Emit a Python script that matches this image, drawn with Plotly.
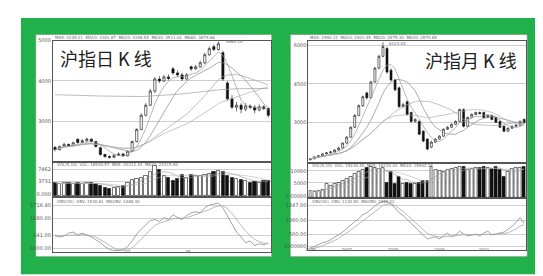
import plotly.graph_objects as go
import pandas as pd

W, H = 543, 276

# ---------------- Left: daily K line (沪指日K线) ----------------
d_open = [2360, 2300, 2380, 2430, 2400, 2560, 2480, 2520, 2560, 2500,
          2350, 2180, 2130, 2110, 2160, 2190, 2150, 2260, 2500, 2800,
          3150, 3400, 3750, 4050, 4000, 4100, 4300, 4200, 4150, 4050,
          4350, 4300, 4350, 4450, 4650, 4850, 4780, 4700, 3950, 3560,
          3350, 3400, 3300, 3380, 3350, 3280, 3360, 3320]
d_close = [2300, 2380, 2430, 2400, 2470, 2480, 2520, 2560, 2500, 2380,
           2180, 2130, 2110, 2160, 2190, 2150, 2260, 2500, 2800, 3150,
           3400, 3750, 4050, 4000, 4100, 4060, 4200, 4150, 4050, 4150,
           4300, 4350, 4450, 4650, 4800, 4780, 4920, 4050, 3560, 3350,
           3400, 3300, 3380, 3350, 3280, 3360, 3320, 3150]
d_high = [2380, 2400, 2470, 2450, 2500, 2580, 2560, 2600, 2580, 2520,
          2370, 2200, 2160, 2190, 2230, 2220, 2280, 2530, 2830, 3200,
          3450, 3800, 4100, 4120, 4150, 4160, 4350, 4260, 4200, 4200,
          4380, 4400, 4500, 4700, 4850, 4900, 4980, 4750, 4000, 3650,
          3480, 3450, 3450, 3420, 3400, 3420, 3400, 3340]
d_low = [2260, 2280, 2360, 2370, 2390, 2450, 2460, 2500, 2470, 2350,
         2150, 2100, 2080, 2090, 2140, 2120, 2130, 2240, 2480, 2780,
         3120, 3380, 3700, 3950, 3980, 4020, 4150, 4100, 4000, 4030,
         4250, 4280, 4330, 4420, 4620, 4740, 4750, 4000, 3500, 3300,
         3250, 3200, 3250, 3300, 3200, 3250, 3280, 3100]
d_vol = [40, 35, 38, 40, 36, 40, 35, 38, 40, 36,
         30, 25, 22, 25, 28, 30, 40, 48, 52, 55,
         58, 70, 88, 78, 60, 55, 45, 50, 62, 55,
         62, 58, 60, 62, 65, 70, 75, 72, 60, 55,
         50, 48, 45, 40, 42, 40, 45, 44]
d_ma_long = [3660, 3655, 3650, 3648, 3645, 3642, 3640, 3638, 3635, 3632,
             3628, 3625, 3622, 3618, 3615, 3612, 3610, 3610, 3612, 3615,
             3620, 3625, 3632, 3640, 3648, 3655, 3662, 3670, 3680, 3690,
             3700, 3712, 3725, 3738, 3752, 3765, 3780, 3790, 3800, 3805,
             3808, 3810, 3812, 3813, 3814, 3815, 3815, 3815]
d_ind1 = [32.1, 28.6, 30.4, 35.7, 37.5, 32.1, 35.7, 32.1, 28.6, 23.2,
          17.9, 10.7, 5.4, 3.6, 3.6, 5.4, 10.7, 21.4, 33.9, 42.9,
          51.8, 58.9, 60.7, 57.1, 64.3, 60.7, 69.6, 64.3, 60.7, 67.9,
          73.2, 75.0, 73.2, 82.1, 87.5, 89.3, 91.1, 82.1, 67.9, 51.8,
          37.5, 28.6, 17.9, 21.4, 12.5, 16.1, 14.3, 17.9]
d_ind2 = [30, 30.5, 31, 32, 33, 33.5, 33, 32.5, 31, 28,
          24, 19, 13, 8, 5, 4, 5, 9, 16, 25,
          34, 43, 50, 54, 57, 59, 62, 63, 63, 64,
          67, 70, 72, 75, 79, 83, 86, 86, 81, 72,
          61, 50, 39, 31, 24, 20, 17, 16]
d_price_ticks = [3000, 4000, 5000]
d_price_text = ["3000", "4000", "5000"]
d_vol_ticks = [6, 43, 77]
d_vol_text = ["0.000", "3731", "7462"]
d_ind_ticks = [7.1, 32.1, 62.5, 87.5]
d_ind_text = ["-1000.00", "641.00", "1180.00", "1716.40"]
d_x_ticks = [16, 29.3]
d_x_text = ["03", "05"]

# ---------------- Right: monthly K line (沪指月K线) ----------------
m_open = [1540, 1577, 1654, 1692, 1769, 1808, 1846, 1923, 2000, 2192,
          2423, 2808, 3269, 3654, 4150, 3960, 4577, 5115, 5577, 5884,
          5038, 4654, 4346, 3615, 3808, 3384, 3038, 3038, 2654, 2346,
          2038, 2230, 2346, 2461, 2731, 2808, 2923, 3038, 3500, 2846,
          3192, 3308, 3384, 3384, 3192, 3269, 3192, 3038, 2846, 2654,
          2770, 2846, 2885, 3115]
m_close = [1577, 1654, 1692, 1769, 1808, 1846, 1923, 2000, 2192, 2423,
           2808, 3269, 3654, 4000, 3960, 4577, 5115, 5577, 5961, 4961,
           4654, 4269, 3615, 3692, 3308, 3038, 3115, 2538, 2269, 1961,
           2230, 2346, 2461, 2731, 2808, 2923, 3038, 3500, 2846, 3192,
           3308, 3384, 3346, 3192, 3269, 3115, 3000, 2808, 2654, 2770,
           2846, 2885, 3038, 2990]
m_high = [1600, 1680, 1720, 1790, 1840, 1880, 1950, 2040, 2220, 2460,
          2850, 3320, 3700, 4050, 4200, 4620, 5160, 5640, 6124, 5950,
          5100, 4700, 4400, 3760, 3850, 3420, 3160, 3080, 2700, 2380,
          2280, 2380, 2500, 2770, 2850, 2960, 3080, 3540, 3540, 3230,
          3350, 3420, 3420, 3420, 3300, 3300, 3220, 3070, 2880, 2800,
          2880, 2920, 3080, 3150]
m_low = [1520, 1560, 1630, 1670, 1750, 1790, 1820, 1900, 1980, 2170,
         2400, 2780, 3240, 3600, 3900, 3940, 4550, 5080, 5550, 4900,
         4600, 4220, 3560, 3580, 3260, 2990, 2990, 2500, 2220, 1900,
         1990, 2200, 2320, 2440, 2700, 2780, 2900, 3010, 2800, 2820,
         3170, 3280, 3300, 3160, 3170, 3080, 2970, 2780, 2620, 2630,
         2750, 2830, 2870, 2960]
m_vol = [22, 18, 20, 25, 42, 35, 40, 45, 50, 55,
         60, 68, 75, 80, 86, 88, 85, 82, 85, 45,
         75, 42, 60, 40, 45, 42, 40, 45, 50, 48,
         88, 80, 78, 75, 80, 82, 85, 88, 88, 80,
         82, 85, 86, 88, 85, 84, 88, 80, 60, 75,
         82, 85, 86, 88]
m_ind1 = [5.6, 7.4, 11.1, 14.8, 16.7, 20.4, 25.9, 29.6, 35.2, 42.6,
          50.0, 55.6, 61.1, 68.5, 72.2, 79.6, 85.2, 90.7, 94.4, 94.4,
          88.9, 81.5, 72.2, 66.7, 59.3, 51.9, 44.4, 35.2, 27.8, 22.2,
          24.1, 25.9, 22.2, 27.8, 33.3, 25.9, 29.6, 37.0, 31.5, 27.8,
          29.6, 31.5, 27.8, 33.3, 37.0, 29.6, 31.5, 33.3, 35.2, 40.7,
          46.3, 53.7, 63.0, 51.9]
m_ind2 = [3, 4, 6, 9, 12, 15, 19, 23, 28, 33,
          39, 45, 51, 57, 63, 69, 75, 81, 86, 89,
          89, 86, 81, 75, 68, 61, 54, 46, 39, 33,
          29, 27, 26, 26, 27, 28, 28, 30, 31, 31,
          30, 30, 30, 30, 31, 31, 31, 32, 32, 34,
          37, 41, 47, 49]
m_price_ticks = [3000, 4500, 6000]
m_price_text = ["3000", "4500", "6000"]
m_vol_ticks = [6, 43, 77]
m_vol_text = ["0.00000", "5000", "10000"]
m_ind_ticks = [7.4, 31.5, 57.4, 87.0]
m_ind_text = ["1000000", "500.00", "1000.00", "1247.00"]
m_x_ticks = [0, 9, 20.5, 32, 43]
m_x_text = ["2006", "2007", "2008", "2009", "2010"]

GREEN = "#22b04a"
INK = "#111111"


def X(px):
    return px / W


def Y(py):
    return 1 - py / H


def ma(vals, n):
    return pd.Series(vals).rolling(n, min_periods=1).mean().tolist()


fig = go.Figure()


def add_panel(sfx, opens, highs, lows, closes, vols, ind1, ind2, extra_ma=None):
    ax = ["", "2", "3"] if sfx == 0 else ["4", "5", "6"]
    idx = list(range(len(closes)))
    fig.add_trace(go.Candlestick(
        x=idx, open=opens, high=highs, low=lows, close=closes,
        xaxis="x" + ax[0], yaxis="y" + ax[0],
        increasing=dict(line=dict(color=INK, width=0.6), fillcolor="white"),
        decreasing=dict(line=dict(color=INK, width=0.6), fillcolor=INK),
        whiskerwidth=0, showlegend=False, hoverinfo="skip"))
    for n, col in [(5, "#9a9a9a"), (10, "#8a8a8a"), (20, "#a5a5a5"), (30, "#b0b0b0")]:
        fig.add_trace(go.Scatter(x=idx, y=ma(closes, n), mode="lines",
                                 line=dict(color=col, width=0.7),
                                 xaxis="x" + ax[0], yaxis="y" + ax[0],
                                 showlegend=False, hoverinfo="skip"))
    if extra_ma is not None:
        fig.add_trace(go.Scatter(x=idx, y=extra_ma, mode="lines",
                                 line=dict(color="#a0a0a0", width=0.7),
                                 xaxis="x" + ax[0], yaxis="y" + ax[0],
                                 showlegend=False, hoverinfo="skip"))
    cols = [INK if c < o else "white" for o, c in zip(opens, closes)]
    fig.add_trace(go.Bar(x=idx, y=vols, width=0.72,
                         marker=dict(color=cols, line=dict(color=INK, width=0.6)),
                         xaxis="x" + ax[1], yaxis="y" + ax[1],
                         showlegend=False, hoverinfo="skip"))
    for n, col in [(5, "#9a9a9a"), (10, "#b5b5b5")]:
        fig.add_trace(go.Scatter(x=idx, y=ma(vols, n), mode="lines",
                                 line=dict(color=col, width=0.6),
                                 xaxis="x" + ax[1], yaxis="y" + ax[1],
                                 showlegend=False, hoverinfo="skip"))
    fig.add_trace(go.Scatter(x=idx, y=ind1, mode="lines",
                             line=dict(color="#8c8c8c", width=0.8),
                             xaxis="x" + ax[2], yaxis="y" + ax[2],
                             showlegend=False, hoverinfo="skip"))
    fig.add_trace(go.Scatter(x=idx, y=ind2, mode="lines",
                             line=dict(color="#a8a8a8", width=0.8),
                             xaxis="x" + ax[2], yaxis="y" + ax[2],
                             showlegend=False, hoverinfo="skip"))


add_panel(0, d_open, d_high, d_low, d_close, d_vol, d_ind1, d_ind2, d_ma_long)
add_panel(1, m_open, m_high, m_low, m_close, m_vol, m_ind1, m_ind2)

tf = dict(size=5, color="#555555", family="DejaVu Sans")
xtf = dict(size=4, color="#666666", family="DejaVu Sans")
frame = dict(showline=True, mirror=True, linecolor="#555555", linewidth=0.8,
             zeroline=False, fixedrange=True)


def xax(dom, n, anchor, show=False, tv=None, tt=None):
    d = dict(domain=dom, range=[-0.5, n - 0.5], anchor=anchor, showgrid=False,
             showticklabels=show, ticks="", tickfont=xtf, **frame)
    d["rangeslider"] = dict(visible=False)
    if tv is not None:
        d["tickvals"] = tv
        d["ticktext"] = tt
        d["ticklabelstandoff"] = -5
    return d


def yax(dom, rng, anchor, tv, tt):
    return dict(domain=dom, range=rng, anchor=anchor, tickvals=tv, ticktext=tt,
                tickfont=tf, ticks="", showgrid=True, gridcolor="#cfcfcf",
                gridwidth=0.6, **frame)


LX = [X(42), X(261)]
RX = [X(299), X(518)]
nd, nm = len(d_close), len(m_close)

fig.update_layout(
    width=W, height=H, margin=dict(l=0, r=0, t=0, b=0),
    paper_bgcolor="white", plot_bgcolor="white", bargap=0,
    xaxis=xax(LX, nd, "y"),
    yaxis=yax([Y(153), Y(30)], [2000, 5000], "x", d_price_ticks, d_price_text),
    xaxis2=xax(LX, nd, "y2"),
    yaxis2=yax([Y(188), Y(153)], [0, 100], "x2", d_vol_ticks, d_vol_text),
    xaxis3=xax(LX, nd, "y3", True, d_x_ticks, d_x_text),
    yaxis3=yax([Y(245), Y(190)], [0, 100], "x3", d_ind_ticks, d_ind_text),
    xaxis4=xax(RX, nm, "y4"),
    yaxis4=yax([Y(154), Y(30)], [1423, 6192], "x4", m_price_ticks, m_price_text),
    xaxis5=xax(RX, nm, "y5"),
    yaxis5=yax([Y(190), Y(154)], [0, 100], "x5", m_vol_ticks, m_vol_text),
    xaxis6=xax(RX, nm, "y6", True, m_x_ticks, m_x_text),
    yaxis6=yax([Y(243), Y(190)], [0, 100], "x6", m_ind_ticks, m_ind_text),
)

shapes = [
    dict(type="rect", xref="paper", yref="paper", x0=X(10), x1=X(534), y0=Y(267), y1=Y(7),
         fillcolor=GREEN, line=dict(width=0), layer="below"),
    dict(type="rect", xref="paper", yref="paper", x0=X(25), x1=X(262), y0=Y(249), y1=Y(24),
         fillcolor="white", line=dict(color="#9a9a9a", width=0.6), layer="below"),
    dict(type="rect", xref="paper", yref="paper", x0=X(281), x1=X(519), y0=Y(249), y1=Y(24),
         fillcolor="white", line=dict(color="#9a9a9a", width=0.6), layer="below"),
]
fig.update_layout(shapes=shapes)

small = dict(size=4, color="#666666", family="DejaVu Sans")
title_font = dict(size=18, color="#222222", family="Noto Sans CJK SC")
ann = [
    dict(text="沪指日 K 线", x=X(47), y=Y(48), xanchor="left", yanchor="middle",
         font=title_font),
    dict(text="沪指月 K 线", x=X(511), y=Y(50), xanchor="right", yanchor="middle",
         font=title_font),
    dict(text="MA5: 3245.21  MA10: 3301.87  MA20: 3398.54  MA30: 3511.02  MA60: 3879.66   ·  ·  ·  ·  ·  ·  ·",
         x=X(42), y=Y(27), xanchor="left", yanchor="middle", font=small),
    dict(text="VOL(5,10)  VOL: 18930.57  MA5: 20312.44  MA10: 22415.90",
         x=X(44), y=Y(156), xanchor="left", yanchor="middle", font=small),
    dict(text="OBV(30)  OBV: 1530.61  MAOBV: 1488.30",
         x=X(44), y=Y(193), xanchor="left", yanchor="middle", font=small),
    dict(text="4980.10", x=X(214), y=Y(31), xanchor="left", yanchor="middle", font=small),
    dict(text="MA5: 2990.12  MA10: 2921.45  MA20: 2875.30  MA30: 2870.65",
         x=X(299), y=Y(27), xanchor="left", yanchor="middle", font=small),
    dict(text="VOL(5,10)  VOL: 15230.40  MA5: 16120.33  MA10: 15902.18",
         x=X(301), y=Y(157), xanchor="left", yanchor="middle", font=small),
    dict(text="OBV(30)  OBV: 1102.50  MAOBV: 1060.22",
         x=X(301), y=Y(193), xanchor="left", yanchor="middle", font=small),
    dict(text="6124.04", x=X(378), y=Y(33), xanchor="left", yanchor="middle", font=small),
]
for a in ann:
    a.update(xref="paper", yref="paper", showarrow=False)
fig.update_layout(annotations=ann)

fig.write_html("out.html")
